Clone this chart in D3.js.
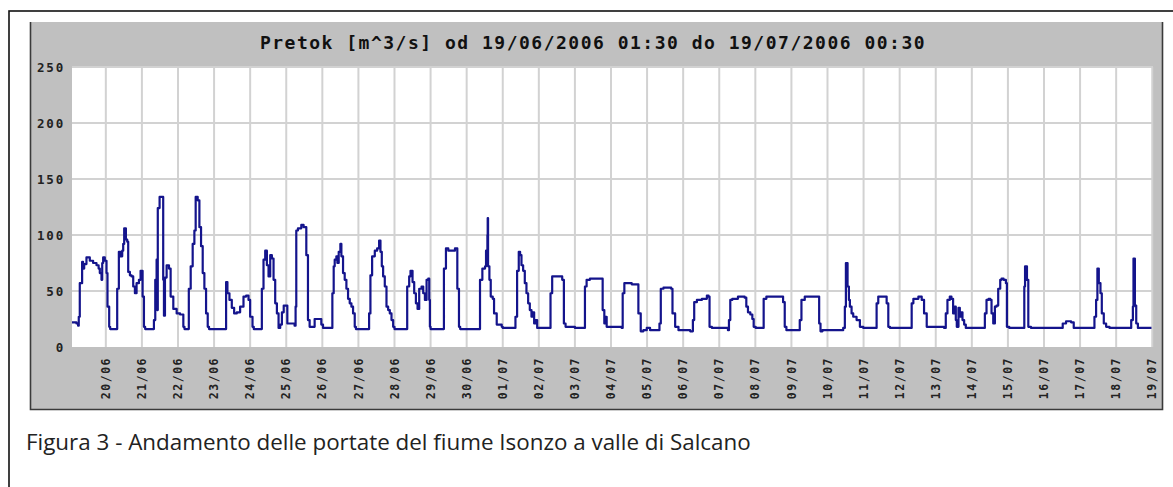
<!DOCTYPE html>
<html lang="it">
<head>
<meta charset="utf-8">
<title>Pretok Isonzo</title>
<script src="https://cdn.jsdelivr.net/npm/d3@7/dist/d3.min.js"></script>
<style>
  body { margin: 0; background: #fff; }
  svg { display: block; }
</style>
</head>
<body>
<script>
// time in days since 19/06/2006 00:00, flow in m^3/s
var dayPos = [
  0.0625,0.185,0.231,0.25,0.278,0.343,0.37,0.4,0.463,0.556,0.648,0.741,0.8,0.833,0.88,0.9,0.926,0.972,1.019,1.046,1.093,1.12,
  1.296,1.315,1.361,1.407,1.454,1.481,1.509,1.556,1.593,1.62,1.667,1.713,1.759,1.806,1.852,1.917,1.963,2.019,2.056,2.09,
  2.315,2.333,2.37,2.407,2.425,2.44,2.475,2.49,2.574,2.59,2.611,2.639,2.685,2.75,2.796,2.87,2.963,3.056,3.148,3.18,
  3.28,3.3,3.352,3.407,3.454,3.49,3.546,3.593,3.639,3.685,3.731,3.778,3.824,3.86,
  4.306,4.333,4.37,4.426,4.491,4.556,4.63,4.722,4.815,4.889,4.954,5.0,5.065,5.1,
  5.278,5.324,5.37,5.417,5.463,5.509,5.556,5.602,5.648,5.694,5.741,5.787,5.833,5.88,5.93,6.0,6.03,
  6.231,6.259,6.278,6.324,6.417,6.481,6.537,6.556,6.602,6.648,6.741,6.787,6.926,6.972,7.019,
  7.25,7.278,7.315,7.343,7.389,7.417,7.454,7.5,7.528,7.574,7.62,7.667,7.713,7.759,7.806,7.852,7.898,7.93,
  8.269,8.296,8.333,8.38,8.454,8.519,8.574,8.611,8.648,8.685,8.731,8.778,8.824,8.87,8.917,8.963,9.0,
  9.333,9.352,9.407,9.444,9.5,9.546,9.593,9.639,9.685,9.75,9.796,9.843,9.889,9.935,9.963,9.981,10.0,
  10.352,10.37,10.426,10.491,10.63,10.676,10.722,10.741,10.787,10.82,
  11.324,11.37,11.435,11.509,11.537,11.575,11.583,11.593,11.63,11.667,11.722,11.759,11.833,11.972,12.0,
  12.33,12.352,12.398,12.444,12.481,12.519,12.565,12.611,12.657,12.704,12.75,12.796,12.833,12.87,12.907,12.954,
  13.306,13.324,13.37,13.583,13.648,13.694,13.741,14.0,
  14.259,14.278,14.324,14.417,14.741,14.769,14.815,14.852,14.88,
  15.296,15.324,15.37,15.574,15.741,15.759,15.824,15.898,15.991,16.083,
  16.315,16.343,16.38,16.454,16.667,16.704,16.778,16.87,
  17.194,17.269,17.306,17.38,17.519,17.657,17.704,17.731,17.796,
  18.241,18.269,18.306,18.361,18.519,18.704,18.75,18.796,18.861,18.917,18.954,19.009,
  19.213,19.231,19.306,19.722,19.769,19.815,19.861,
  20.185,20.231,20.278,20.37,20.713,20.769,20.806,20.861,
  21.435,21.481,21.51,21.528,21.556,21.593,21.62,21.667,21.713,21.806,21.898,21.991,
  22.315,22.361,22.407,22.593,22.639,22.685,22.731,
  23.287,23.333,23.38,23.519,23.611,23.676,23.75,
  24.231,24.278,24.324,24.389,24.435,24.481,24.528,24.556,24.583,24.63,24.667,24.694,24.741,24.787,24.833,
  25.343,25.361,25.407,25.463,25.509,25.546,25.593,25.639,25.685,25.731,25.787,25.824,25.88,25.944,25.972,26.037,
  26.407,26.454,26.475,26.491,26.528,26.565,26.639,
  27.472,27.519,27.611,27.75,27.824,
  28.352,28.398,28.444,28.48,28.491,28.519,28.565,28.602,28.657,28.722,28.815,
  29.37,29.417,29.463,29.48,29.491,29.519,29.556,29.602,29.979
];
var flow = [
  22,21,19,27,57,76,70,74,80,77,75,73,70,66,60,75,80,77,66,36,18,16,
  16,52,85,81,86,92,106,96,94,67,64,63,54,48,57,60,68,45,18,16,
  16,24,60,78,33,124,124,134,134,60,28,62,73,70,45,34,30,29,18,16,
  16,52,72,92,104,134,131,107,90,66,52,30,18,16,
  16,58,48,42,35,30,31,36,45,46,42,27,18,16,
  16,52,78,86,73,63,82,79,60,39,30,17,20,31,37,37,21,
  19,36,104,106,109,107,107,82,24,18,18,25,25,20,17,
  17,48,72,78,81,75,85,92,81,66,60,52,43,39,36,30,18,16,
  16,30,64,81,86,88,95,85,72,63,54,36,33,30,24,18,16,
  16,54,63,68,58,48,39,34,52,54,48,42,60,61,42,18,16,
  16,70,88,86,86,88,88,52,18,16,
  16,60,70,72,86,100,115,72,60,45,43,30,20,18,17,
  17,27,68,85,82,73,68,57,48,39,33,27,31,21,24,17,
  17,48,63,63,60,21,18,17,
  17,54,60,61,61,33,21,27,18,
  17,48,57,56,56,30,14,15,17,15,
  15,21,52,53,52,30,18,15,
  14,24,40,42,43,46,45,18,17,
  15,24,42,43,45,44,36,31,29,25,18,17,
  17,43,45,45,40,18,15,
  15,24,42,45,45,21,14,15,
  17,36,75,75,54,42,36,30,27,24,18,17,
  17,39,45,45,39,18,17,
  17,39,43,45,42,30,18,
  17,30,42,45,43,30,36,24,18,35,27,31,24,20,17,
  17,30,42,43,42,30,21,36,37,52,60,61,60,57,18,17,
  17,54,72,72,60,18,17,
  17,21,23,22,17,
  17,27,42,70,70,57,48,30,21,18,17,
  17,24,36,79,79,37,21,17,17
];
var yTicks = [0, 50, 100, 150, 200, 250];
var titleText = "Pretok [m^3/s] od 19/06/2006 01:30 do 19/07/2006 00:30";
var captionText = "Figura 3 - Andamento delle portate del fiume Isonzo a valle di Salcano";

var w = 1173, h = 487;
var plot = {left: 72, right: 1153, top: 67, bottom: 347};

var svg = d3.select("body").append("svg")
    .attr("width", w)
    .attr("height", h);

// outer document frame
svg.append("rect")
    .attr("x", 9).attr("y", 11)
    .attr("width", 1166).attr("height", 490)
    .attr("fill", "none")
    .attr("stroke", "#111")
    .attr("stroke-width", 1.6);

// grey chart panel
svg.append("rect")
    .attr("x", 30).attr("y", 22)
    .attr("width", 1133).attr("height", 388)
    .attr("fill", "#c0c0c0");
svg.append("path")
    .attr("d", "M30.5,22V409.5H1162.5V22")
    .attr("fill", "none")
    .attr("stroke", "#3a3a3a")
    .attr("stroke-width", 1.6);

// plotting area
svg.append("rect")
    .attr("x", plot.left).attr("y", plot.top)
    .attr("width", plot.right - plot.left).attr("height", plot.bottom - plot.top)
    .attr("fill", "#fff");

var t0 = Date.UTC(2006, 5, 19);
function toDate(d) { return new Date(t0 + d * 86400000); }

var x = d3.scaleUtc()
    .domain([new Date(Date.UTC(2006, 5, 19, 1, 30)), new Date(Date.UTC(2006, 6, 19, 0, 30))])
    .range([plot.left, plot.right]);

var y = d3.scaleLinear()
    .domain([0, 250])
    .range([plot.bottom, plot.top]);

var days = d3.utcDay.range(new Date(Date.UTC(2006, 5, 20)), new Date(Date.UTC(2006, 6, 19, 1)));

// grid
var grid = svg.append("g").attr("stroke", "#d2d2d2").attr("stroke-width", 2);
grid.selectAll("line.v")
    .data(days)
    .enter().append("line")
    .attr("x1", function(d) { return x(d); })
    .attr("x2", function(d) { return x(d); })
    .attr("y1", plot.top).attr("y2", plot.bottom);
grid.selectAll("line.h")
    .data(yTicks.slice(1))
    .enter().append("line")
    .attr("x1", plot.left).attr("x2", plot.right)
    .attr("y1", function(d) { return y(d); })
    .attr("y2", function(d) { return y(d); });

// y labels
svg.append("g").selectAll("text")
    .data(yTicks)
    .enter().append("text")
    .attr("x", 65)
    .attr("y", function(d) { return y(d); })
    .attr("dy", "0.36em")
    .attr("text-anchor", "end")
    .attr("font-family", "DejaVu Sans Mono")
    .attr("font-weight", "bold")
    .attr("font-size", "12.5px")
    .attr("letter-spacing", "1.8px")
    .attr("fill", "#222")
    .text(function(d) { return d; });

// x labels, rotated
var fmt = d3.utcFormat("%d/%m");
svg.append("g").selectAll("text")
    .data(days)
    .enter().append("text")
    .attr("transform", function(d) { return "translate(" + x(d) + ",357) rotate(-90)"; })
    .attr("dy", "0.36em")
    .attr("text-anchor", "end")
    .attr("font-family", "DejaVu Sans Mono")
    .attr("font-weight", "bold")
    .attr("font-size", "11.5px")
    .attr("letter-spacing", "1.5px")
    .attr("fill", "#222")
    .text(function(d) { return fmt(d); });

// title
svg.append("text")
    .attr("x", 593).attr("y", 49)
    .attr("text-anchor", "middle")
    .attr("font-family", "DejaVu Sans Mono")
    .attr("font-weight", "bold")
    .attr("font-size", "18px")
    .attr("letter-spacing", "1.5px")
    .attr("fill", "#111")
    .text(titleText);

// the series (hourly readings drawn as steps)
var line = d3.line()
    .x(function(d, i) { return x(toDate(dayPos[i])); })
    .y(function(d) { return y(d); })
    .curve(d3.curveStepAfter);

svg.append("path")
    .datum(flow)
    .attr("fill", "none")
    .attr("stroke", "#14148c")
    .attr("stroke-width", 2.2)
    .attr("stroke-linejoin", "round")
    .attr("d", line);

// caption
svg.append("text")
    .attr("x", 26).attr("y", 450)
    .attr("font-family", "Open Sans")
    .attr("font-size", "22.4px")
    .attr("fill", "#222")
    .text(captionText);
</script>
</body>
</html>
